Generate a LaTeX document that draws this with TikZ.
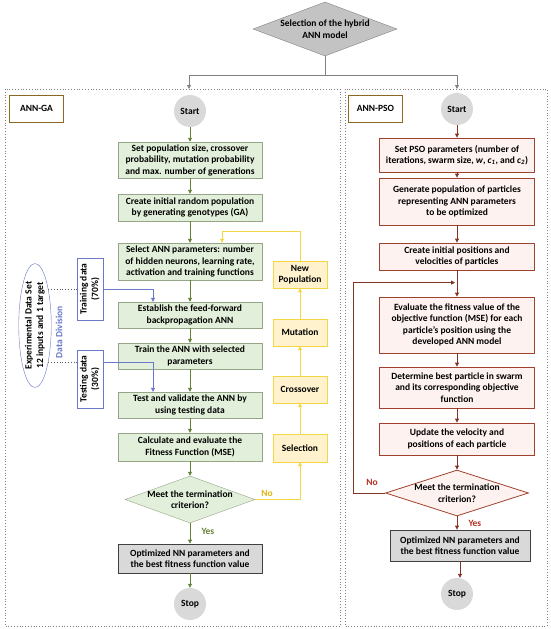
\documentclass[tikz,border=0pt]{standalone}
\usepackage{fontspec}
\setmainfont{Carlito}[BoldFont={Carlito Bold}, ItalicFont={Carlito Italic}, BoldItalicFont={Carlito Bold Italic}]
\usetikzlibrary{arrows.meta}
\usetikzlibrary{shapes.geometric}
\usetikzlibrary{positioning}
\definecolor{mgreen}{RGB}{226,239,218}
\definecolor{mgreenline}{RGB}{150,165,135}
\definecolor{mgreenarrow}{RGB}{100,130,55}
\definecolor{myellow}{RGB}{255,242,204}
\definecolor{myelline}{RGB}{242,214,70}
\definecolor{myeltext}{RGB}{225,180,20}
\definecolor{mpink}{RGB}{253,242,239}
\definecolor{mred}{RGB}{160,65,45}
\definecolor{mredtext}{RGB}{180,50,35}
\definecolor{mgray}{RGB}{217,217,217}
\definecolor{mgold}{RGB}{140,105,35}
\definecolor{mblue}{RGB}{105,120,200}
\tikzset{every node/.style={font=\bfseries\fontsize{9.5}{11.5}\selectfont},
         gabox/.style={draw=mgreenline, fill=mgreen, align=center, minimum width=144pt, inner sep=1pt},
         psobox/.style={draw=mred, thick, fill=mpink, align=center, minimum width=155pt, inner sep=1pt},
         yelbox/.style={draw=myelline, fill=myellow, align=center, minimum width=54pt, minimum height=27pt, inner sep=1pt},
         optbox/.style={draw=black!75, thick, fill=mgray, align=center, inner sep=1pt},
         term/.style={circle, fill=mgray, minimum size=32pt, inner sep=0pt},
         tag/.style={draw=mgold, thick, fill=white, minimum width=54pt, minimum height=27pt},
         datbox/.style={draw=mblue, fill=white, minimum width=26pt, inner sep=0pt},
         gaarrow/.style={draw=mgreenarrow, thick, -{Triangle[length=4pt,width=4pt]}},
         psoarrow/.style={draw=mred!80!black, thick, -{Triangle[length=4pt,width=4pt]}},
         yelarrow/.style={draw=myelline, thick, -{Triangle[length=4pt,width=4pt]}},
         topline/.style={draw=gray, thick}}

\begin{document}
\begin{tikzpicture}[x=1pt, y=-1pt]
  \useasboundingbox (0,0) rectangle (550,629);
  % panels
  \draw[dotted, gray, thick] (5,89) rectangle (340,626);
  \draw[dotted, gray, thick] (345,89) rectangle (547,626);

  \node [diamond, draw=gray, fill=mgray!90!black, aspect=2.67, inner sep=-2pt,
         minimum width=144pt, minimum height=54pt, align=center] (sel) at (325,29) {Selection of the hybrid\\ANN model};
  \coordinate (split) at (325,75);
  \coordinate (gain) at (189,89);
  \coordinate (psoin) at (457,89);
  \draw [topline] (sel.south) -- (split);
  \draw [topline, -{Triangle[length=4pt,width=4pt]}] (split) -| (gain);
  \draw [topline, -{Triangle[length=4pt,width=4pt]}] (split) -| (psoin);

  % ANN-GA
  \node [tag] (gatag) at (36.5,108.5) {ANN-GA};
  \node [term] (startga) at (190,111) {Start};
  \node [gabox, minimum height=36pt] (ga1) at (190,160) {Set population size, crossover\\probability, mutation probability\\and max. number of generations};
  \node [gabox, minimum height=27pt] (ga2) at (190,207.5) {Create initial random population\\by generating genotypes (GA)};
  \node [gabox, minimum height=37pt] (ga3) at (190,261.5) {Select ANN parameters: number\\of hidden neurons, learning rate,\\activation and training functions};
  \node [gabox, minimum height=26pt] (ga4) at (190,315) {Establish the feed-forward\\backpropagation ANN};
  \node [gabox, minimum height=26pt] (ga5) at (190,356) {Train the ANN with selected\\parameters};
  \node [gabox, minimum height=26pt] (ga6) at (190,405) {Test and validate the ANN by\\using testing data};
  \node [gabox, minimum height=28pt] (ga7) at (190,447) {Calculate and evaluate the\\Fitness Function (MSE)};
  \node [diamond, draw=mgreenline, fill=mgreen, aspect=2.77, inner sep=-3pt, minimum width=130pt,
         minimum height=47pt, align=center] (gadec) at (190,499.5) {Meet the termination\\criterion?};
  \node [optbox, minimum width=144pt, minimum height=29pt] (gaopt) at (190,558.5) {Optimized NN parameters and\\the best fitness function value};
  \node [term] (stopga) at (190,604) {Stop};

  \foreach \a/\b in {startga/ga1, ga1/ga2, ga2/ga3, ga3/ga4, ga4/ga5, ga5/ga6, ga6/ga7, ga7/gadec, gadec/gaopt, gaopt/stopga}
    \draw [gaarrow] (\a) -- (\b);
  \node [text=mgreenarrow, right] at (198,531) {Yes};

  % data division
  \node [ellipse, draw=mblue, fill=white, minimum width=29pt, minimum height=99pt, inner sep=0pt] (ell) at (35,325.5)
        {\rotatebox{90}{\begin{tabular}{@{}c@{}}Experimental Data Set\\12 inputs and 1 target\end{tabular}}};
  \node [text=mblue] (div) at (59,332) {\rotatebox{90}{Data Division}};
  \node [datbox, minimum height=62pt] (train) at (90,289) {\rotatebox{90}{\begin{tabular}{@{}c@{}}Training data\\(70\%)\end{tabular}}};
  \node [datbox, minimum height=58pt] (test) at (90,379) {\rotatebox{90}{\begin{tabular}{@{}c@{}}Testing data\\(30\%)\end{tabular}}};
  \draw [dotted, gray!70!black, thick] (ell.70) -- (ell.70 -| train.west);
  \draw [dotted, gray!70!black, thick] (ell.-70) -- (ell.-70 -| test.west);
  \draw [draw=mblue, -{Triangle[length=4pt,width=4pt]}] (ell.70 -| train.east) -| ([xshift=-37pt]ga4.north);
  \draw [draw=mblue, -{Triangle[length=4pt,width=4pt]}] (ell.-70 -| test.east) -| ([xshift=-37pt]ga6.north);

  % GA operators
  \node [yelbox] (newpop) at (300,274.5) {New\\Population};
  \node [yelbox] (mut) at (300,332.5) {Mutation};
  \node [yelbox] (cross) at (300,389.5) {Crossover};
  \node [yelbox, minimum height=28pt] (select) at (300,448) {Selection};
  \draw [yelarrow] (gadec.east) -| (select.south);
  \foreach \a/\b in {select/cross, cross/mut, mut/newpop}
    \draw [yelarrow] (\a) -- (\b);
  \draw [yelarrow] (newpop.north) |- ([xshift=32pt,yshift=11pt]ga3.north) -- ([xshift=32pt]ga3.north);
  \node [text=myeltext] at (267,493) {No};

  % ANN-PSO
  \node [tag] (psotag) at (375.5,108.5) {ANN-PSO};
  \node [term] (startpso) at (457,109) {Start};
  \node [psobox, minimum height=34pt] (pso1) at (457,155) {Set PSO parameters (number of\\iterations, swarm size, \textit{w}, \textit{c}\textsubscript{\textit{1}}, and \textit{c}\textsubscript{\textit{2}})};
  \node [psobox, minimum height=47pt] (pso2) at (457,201.5) {Generate population of particles\\representing ANN parameters\\to be optimized};
  \node [psobox, minimum height=27pt] (pso3) at (457,256.5) {Create initial positions and\\velocities of particles};
  \node [psobox, minimum height=56pt] (pso4) at (457,325) {Evaluate the fitness value of the\\objective function (MSE) for each\\particle’s position using the\\developed ANN model};
  \node [psobox, minimum height=41pt] (pso5) at (457,387.5) {Determine best particle in swarm\\and its corresponding objective\\function};
  \node [psobox, minimum height=32pt] (pso6) at (457,439) {Update the velocity and\\positions of each particle};
  \node [diamond, draw=mred, thick, fill=mpink, aspect=3.1, inner sep=-3pt, minimum width=143pt,
         minimum height=46pt, align=center] (psodec) at (457,493) {Meet the termination\\criterion?};
  \node [optbox, minimum width=140pt, minimum height=31pt] (psoopt) at (460,545.5) {Optimized NN parameters and\\the best fitness function value};
  \node [term] (stoppso) at (457,594) {Stop};

  \foreach \a/\b in {startpso/pso1, pso1/pso2, pso2/pso3, pso3/pso4, pso4/pso5, pso5/pso6, pso6/psodec, psodec/psoopt, psoopt/stoppso}
    \draw [psoarrow] (\a) -- (\a |- \b.north);
  \draw [psoarrow] (psodec.west) -| ([xshift=-104pt,yshift=14pt]pso4.north) -- ([xshift=-2pt,yshift=14pt]pso4.north);
  \node [text=mredtext] at (372,482) {No};
  \node [text=mredtext, right] at (465,523) {Yes};
\end{tikzpicture}
\end{document}
